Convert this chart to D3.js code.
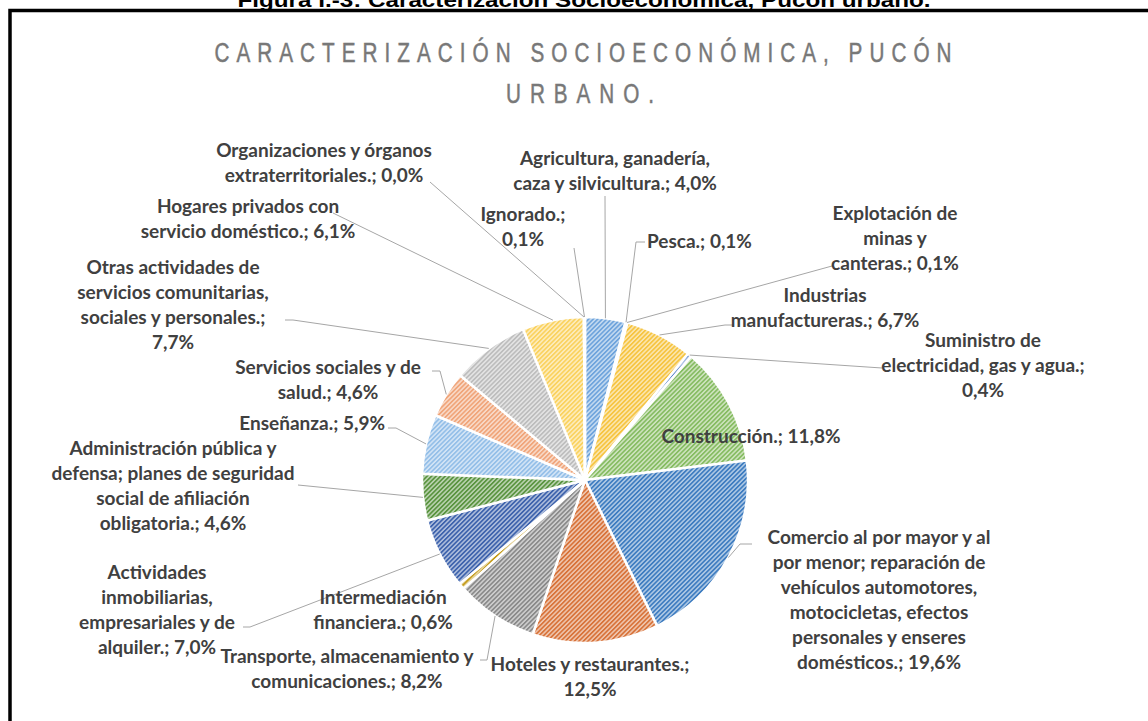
<!DOCTYPE html>
<html>
<head>
<meta charset="utf-8">
<script src="https://cdn.jsdelivr.net/npm/d3@7"></script>
<style>
  body { margin: 0; background: #fff; }
  text { font-family: Lato, "Open Sans", sans-serif; }
</style>
</head>
<body>
<svg id="chart"></svg>
<script>
// datos: actividad económica, % de ocupados
const categories = [
    "Agricultura, ganadería, caza y silvicultura.",
    "Pesca.",
    "Explotación de minas y canteras.",
    "Industrias manufactureras.",
    "Suministro de electricidad, gas y agua.",
    "Construcción.",
    "Comercio al por mayor y al por menor; reparación de vehículos automotores, motocicletas, efectos personales y enseres domésticos.",
    "Hoteles y restaurantes.",
    "Transporte, almacenamiento y comunicaciones.",
    "Intermediación financiera.",
    "Actividades inmobiliarias, empresariales y de alquiler.",
    "Administración pública y defensa; planes de seguridad social de afiliación obligatoria.",
    "Enseñanza.",
    "Servicios sociales y de salud.",
    "Otras actividades de servicios comunitarias, sociales y personales.",
    "Hogares privados con servicio doméstico.",
    "Organizaciones y órganos extraterritoriales.",
    "Ignorado."
];
const values = [4.0, 0.1, 0.1, 6.7, 0.4, 11.8, 19.6, 12.5, 8.2, 0.6, 7.0, 4.6, 5.9, 4.6, 7.7, 6.1, 0.0, 0.1];

const stripeColors = ["#6fa4dc", "#ed7d31", "#a5a5a5", "#f6c440", "#4472c4", "#86bc62",
                      "#3e7cc0", "#d8733a", "#8a8a8a", "#c49b1a", "#3d62ac", "#5a9440",
                      "#94bfe8", "#f0a57a", "#bdbdbd", "#fad25f", "#8faadc", "#a9d18e"];

// words per line of each label
const labelWords = [[2, 4], [2], [2, 2, 2], [1, 2], [2, 4, 1], [2], [6, 4, 2, 2, 3, 2], [3, 1],
                    [3, 2], [1, 2], [1, 1, 3, 2], [3, 4, 3, 2], [2], [4, 2], [3, 2, 3, 1], [3, 3], [3, 2], [1, 1]];

// label placement: centre x, first line y, anchor, leader points from label towards the pie
const labelPos = [
    {x: 615, y: 158, a: "middle", lead: [[605, 196]]},
    {x: 647, y: 241, a: "start",  lead: [[645, 242], [636, 242]]},
    {x: 895, y: 213, a: "middle", lead: [[832, 266]]},
    {x: 825, y: 295, a: "middle", lead: [[733, 325], [725, 325]]},
    {x: 983, y: 340, a: "middle", lead: [[882, 368]]},
    {x: 751, y: 436, a: "middle", lead: null},
    {x: 879, y: 537, a: "middle", lead: [[752, 544], [740, 544]]},
    {x: 590, y: 664, a: "middle", lead: null},
    {x: 347, y: 656, a: "middle", lead: [[480, 660], [487, 660]]},
    {x: 383, y: 597, a: "middle", lead: null},
    {x: 157, y: 572, a: "middle", lead: [[243, 627], [250, 627]]},
    {x: 173, y: 448, a: "middle", lead: [[298, 485]]},
    {x: 385, y: 423, a: "end",    lead: [[388, 428], [396, 428]]},
    {x: 328, y: 367, a: "middle", lead: [[432, 371], [440, 371]]},
    {x: 173, y: 267, a: "middle", lead: [[285, 320], [293, 320]]},
    {x: 248, y: 206, a: "middle", lead: [[333, 213]]},
    {x: 324, y: 150, a: "middle", lead: [[430, 182]]},
    {x: 523, y: 214, a: "middle", lead: [[574, 248]]}
];

const width = 1148, height = 721;
const cx = 585, cy = 480, radius = 163;
const lineH = 25;

const svg = d3.select("#chart").attr("width", width).attr("height", height);

// figure caption, cut at the top of the page
svg.append("text")
    .attr("x", 584).attr("y", 7)
    .attr("text-anchor", "middle")
    .style("font-family", "'Liberation Sans', Arial, sans-serif")
    .style("font-weight", "bold")
    .style("font-size", "20px")
    .attr("textLength", 693).attr("lengthAdjust", "spacingAndGlyphs")
    .text("Figura I.-3: Caracterización Socioeconómica, Pucón urbano.");

// frame
svg.append("path")
    .attr("d", `M10,${height} V10.5 H${width}`)
    .attr("fill", "none")
    .attr("stroke", "#000")
    .attr("stroke-width", 3.5);

// title (narrowed Liberation Sans with wide tracking)
const sx = 0.74;
const titleLines = [
    {text: "CARACTERIZACIÓN SOCIOECONÓMICA, PUCÓN", x: 583, y: 62, len: 737},
    {text: "URBANO.", x: 580, y: 103, len: 148}
];
svg.selectAll(".title")
    .data(titleLines)
    .enter().append("text")
        .attr("class", "title")
        .attr("transform", d => `translate(${d.x},${d.y}) scale(${sx},1)`)
        .attr("text-anchor", "middle")
        .attr("textLength", d => d.len / sx).attr("lengthAdjust", "spacing")
        .attr("fill", "#787878")
        .attr("stroke", "#787878")
        .attr("stroke-width", 0.5)
        .style("font-family", "'Liberation Sans', sans-serif")
        .style("font-size", "28px")
        .text(d => d.text);

// stripe patterns
const defs = svg.append("defs");
stripeColors.forEach((c, i) => {
    const p = defs.append("pattern")
        .attr("id", "stripe" + i)
        .attr("patternUnits", "userSpaceOnUse")
        .attr("width", 3.2).attr("height", 3.2)
        .attr("patternTransform", "rotate(45)");
    p.append("rect").attr("width", 3.2).attr("height", 3.2)
        .attr("fill", d3.interpolateRgb(c, "#fff")(0.6));
    p.append("rect").attr("width", 1.7).attr("height", 3.2).attr("fill", c);
});

const pie = d3.pie().sort(null).value(d => d);
const arcs = pie(values);
const arc = d3.arc().innerRadius(0).outerRadius(radius);
const edge = d3.arc().innerRadius(radius).outerRadius(radius);

const g = svg.append("g").attr("transform", `translate(${cx},${cy})`);

g.selectAll(".slice")
    .data(arcs)
    .enter().append("path")
        .attr("class", "slice")
        .attr("d", arc)
        .attr("fill", (d, i) => `url(#stripe${i})`)
        .attr("stroke", "#fff")
        .attr("stroke-width", 2.5)
        .attr("stroke-linejoin", "round");

// leader lines
const line = d3.line();
arcs.forEach((d, i) => {
    const pos = labelPos[i];
    if (!pos.lead) return;
    const c = edge.centroid(d);
    const pts = pos.lead.concat([[cx + c[0], cy + c[1]]]);
    svg.append("path")
        .attr("d", line(pts))
        .attr("fill", "none")
        .attr("stroke", "#a6a6a6")
        .attr("stroke-width", 1);
});

// labels
const fmt = v => d3.format(".1f")(v).replace(".", ",");
const labels = svg.append("g")
    .attr("fill", "#404040")
    .style("font-weight", "bold")
    .style("font-size", "19px");

categories.forEach((cat, i) => {
    const words = (cat + "; " + fmt(values[i]) + "%").split(" ");
    const pos = labelPos[i];
    const t = labels.append("text").attr("text-anchor", pos.a);
    let k = 0;
    labelWords[i].forEach((n, j) => {
        t.append("tspan")
            .attr("x", pos.x)
            .attr("y", pos.y + j * lineH)
            .attr("dy", "0.35em")
            .text(words.slice(k, k + n).join(" "));
        k += n;
    });
});
</script>
</body>
</html>
